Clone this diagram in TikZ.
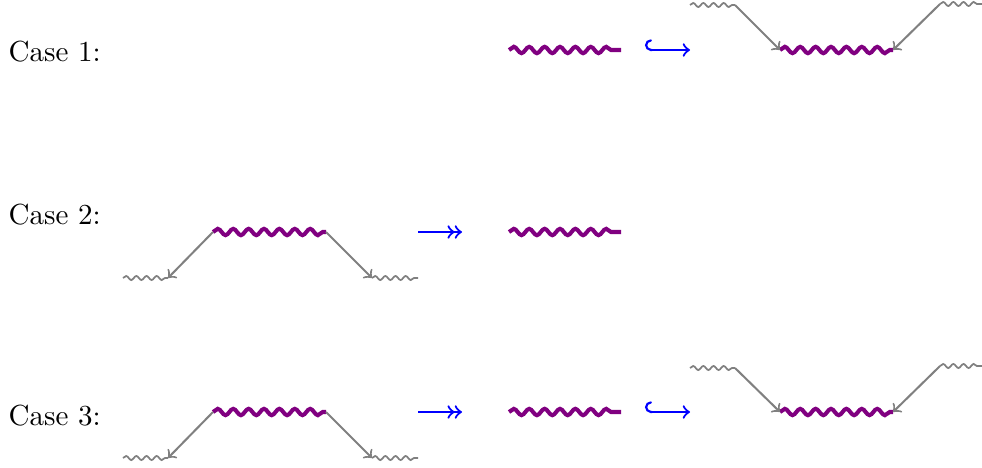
\documentclass[tikz,border=0pt]{standalone}
\usepackage{xcolor}
\usetikzlibrary{
		arrows,
		decorations.pathmorphing,
		positioning
	}
\tikzset{
		>=to,
		boson/.style={violet, line width=1.4pt, decorate,
			decoration={snake, amplitude=1.1pt, segment length=5.3pt, post length=1pt}},
		soft/.style={gray, line width=0.6pt, decorate,
			decoration={snake, amplitude=0.7pt, segment length=3.5pt, post length=0.5pt}},
		leg/.style={gray, line width=0.7pt, ->},
		inj/.style={blue, line width=0.75pt, right hook->},
		surj/.style={blue, line width=0.75pt, ->>},
		caselabel/.style={anchor=west, inner sep=0pt}
	}

\begin{document}
\begin{tikzpicture}[x=0.0121cm, y=-0.0121cm]
    \useasboundingbox (0,0) rectangle (982,467);

    % the labels
    \node[caselabel] (c1) at (8,52) {Case 1:};
    \node[caselabel] (c2) at (8,215) {Case 2:};
    \node[caselabel] (c3) at (8,416) {Case 3:};

    % case 1
    \coordinate (p1a) at (509,50);
    \coordinate (p1b) at (621,50);
    \coordinate (h1a) at (645,50);
    \coordinate (h1b) at (690,50);
    \coordinate (q1a) at (780,50);
    \coordinate (q1b) at (893,50);
    \coordinate (u1a) at (690,5);
    \coordinate (u1b) at (735,5);
    \coordinate (v1a) at (940,4);
    \coordinate (v1b) at (982,4);

    \draw[boson] (p1a) -- (p1b);
    \draw[inj] (h1a) -- (h1b);
    \draw[boson] (q1a) -- (q1b);
    \draw[soft] (u1a) -- (u1b);
    \draw[leg] (u1b) -- (q1a);
    \draw[soft] (v1a) -- (v1b);
    \draw[leg] (v1a) -- (q1b);

    % case 2
    \coordinate (r2a) at (213,232);
    \coordinate (r2b) at (326,232);
    \coordinate (s2a) at (123,278);
    \coordinate (s2b) at (168,278);
    \coordinate (t2a) at (372,278);
    \coordinate (t2b) at (418,278);
    \coordinate (f2a) at (418,232);
    \coordinate (f2b) at (462,232);
    \coordinate (p2a) at (509,232);
    \coordinate (p2b) at (621,232);

    \draw[boson] (r2a) -- (r2b);
    \draw[leg] (r2a) -- (s2b);
    \draw[soft] (s2a) -- (s2b);
    \draw[leg] (r2b) -- (t2a);
    \draw[soft] (t2a) -- (t2b);
    \draw[surj] (f2a) -- (f2b);
    \draw[boson] (p2a) -- (p2b);

    % case 3
    \coordinate (r3a) at (213,412);
    \coordinate (r3b) at (326,412);
    \coordinate (s3a) at (123,458);
    \coordinate (s3b) at (168,458);
    \coordinate (t3a) at (372,458);
    \coordinate (t3b) at (418,458);
    \coordinate (f3a) at (418,412);
    \coordinate (f3b) at (462,412);
    \coordinate (p3a) at (509,412);
    \coordinate (p3b) at (621,412);
    \coordinate (h3a) at (645,412);
    \coordinate (h3b) at (690,412);
    \coordinate (q3a) at (780,412);
    \coordinate (q3b) at (893,412);
    \coordinate (u3a) at (690,368);
    \coordinate (u3b) at (735,368);
    \coordinate (v3a) at (940,366);
    \coordinate (v3b) at (982,366);

    \draw[boson] (r3a) -- (r3b);
    \draw[leg] (r3a) -- (s3b);
    \draw[soft] (s3a) -- (s3b);
    \draw[leg] (r3b) -- (t3a);
    \draw[soft] (t3a) -- (t3b);
    \draw[surj] (f3a) -- (f3b);
    \draw[boson] (p3a) -- (p3b);
    \draw[inj] (h3a) -- (h3b);
    \draw[boson] (q3a) -- (q3b);
    \draw[soft] (u3a) -- (u3b);
    \draw[leg] (u3b) -- (q3a);
    \draw[soft] (v3a) -- (v3b);
    \draw[leg] (v3a) -- (q3b);

\end{tikzpicture}
\end{document}
